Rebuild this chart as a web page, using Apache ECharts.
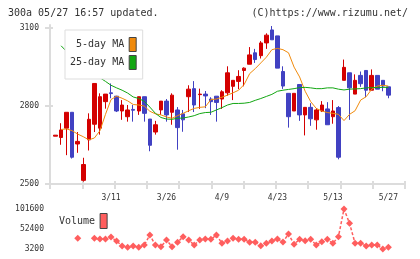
<!DOCTYPE html>
<html>
<head>
<meta charset="utf-8">
<script src="https://cdn.jsdelivr.net/npm/echarts@6/dist/echarts.min.js"></script>
<style>
  html, body { margin: 0; padding: 0; background: #fff; }
  #chart { width: 420px; height: 259px; }
</style>
</head>
<body>
<div id="chart"></div>
<script>
const dates = [
  "2/25", "2/26", "2/27", "2/28", "3/3", "3/4", "3/5", "3/6", "3/7", "3/10",
  "3/11", "3/12", "3/13", "3/14", "3/17", "3/18", "3/19", "3/21", "3/24", "3/25", "3/26",
  "3/27", "3/28", "3/31", "4/1", "4/2", "4/3", "4/4", "4/7", "4/8", "4/9",
  "4/10", "4/11", "4/14", "4/15", "4/16", "4/17", "4/18", "4/21", "4/22", "4/23",
  "4/24", "4/25", "4/28", "5/1", "5/2", "5/7", "5/8", "5/9", "5/12", "5/13",
  "5/14", "5/15", "5/16", "5/19", "5/20", "5/21", "5/22", "5/23", "5/26", "5/27",
];

const openP = [
  2684, 2679, 2715, 2776, 2654, 2514, 2670, 2730, 2715, 2817,
  2851, 2838, 2781, 2759, 2787, 2781, 2836, 2750, 2700, 2785,
  2819, 2776, 2785, 2770, 2836, 2867, 2844, 2846, 2827, 2838,
  2827, 2851, 2876, 2895, 2937, 2961, 3005, 2994, 3043, 3093,
  3070, 2933, 2849, 2781, 2883, 2766, 2795, 2747, 2781, 2789,
  2759, 2794, 2899, 2928, 2846, 2918, 2937, 2861, 2918, 2899, 2874,
];
const closeP = [
  2688, 2708, 2776, 2603, 2664, 2575, 2749, 2887, 2836, 2846,
  2848, 2781, 2804, 2785, 2784, 2836, 2772, 2649, 2728, 2819,
  2766, 2842, 2717, 2747, 2865, 2804, 2846, 2839, 2817, 2814,
  2855, 2928, 2899, 2914, 2946, 2997, 2979, 3043, 3073, 3055,
  2946, 2877, 2759, 2849, 2766, 2795, 2751, 2785, 2804, 2728,
  2781, 2603, 2949, 2870, 2899, 2886, 2861, 2918, 2865, 2877, 2842,
];
const lowP = [
  2684, 2651, 2611, 2598, 2620, 2509, 2629, 2700, 2690, 2790,
  2830, 2777, 2747, 2740, 2740, 2766, 2740, 2626, 2690, 2766,
  2740, 2728, 2632, 2701, 2777, 2777, 2789, 2792, 2766, 2740,
  2789, 2840, 2823, 2865, 2876, 2961, 2966, 2983, 3020, 3055,
  2946, 2866, 2717, 2781, 2743, 2687, 2724, 2709, 2777, 2728,
  2732, 2595, 2899, 2747, 2846, 2874, 2834, 2861, 2865, 2857, 2830,
];
const highP = [
  2688, 2734, 2776, 2776, 2700, 2601, 2772, 2887, 2849, 2846,
  2887, 2838, 2823, 2804, 2804, 2836, 2836, 2750, 2743, 2819,
  2827, 2849, 2796, 2785, 2880, 2896, 2867, 2858, 2834, 2838,
  2861, 2953, 2899, 2938, 2949, 3027, 3020, 3050, 3080, 3108,
  3070, 2953, 2849, 2849, 2883, 2795, 2811, 2792, 2819, 2815,
  2823, 2800, 2979, 2928, 2922, 2933, 2937, 2941, 2918, 2899, 2874,
];

const ma5 = [
  null, 2710, 2712, 2705, 2692, 2682, 2670, 2677, 2705, 2768,
  2825, 2838, 2830, 2820, 2806, 2804, 2800, 2780, 2770, 2766,
  2758, 2753, 2763, 2772, 2782, 2791, 2795, 2797, 2825, 2827,
  2834, 2842, 2851, 2861, 2883, 2925, 2944, 2966, 2988, 3017,
  3022, 3017, 3005, 2950, 2912, 2857, 2817, 2791, 2781, 2775,
  2772, 2768, 2744, 2768, 2782, 2823, 2836, 2865, 2877, 2880, 2877,
];
const ma25 = [
  null, 3032, 3010, 2990, 2971, 2952, 2933, 2918, 2909, 2895,
  2880, 2870, 2861, 2850, 2835, 2829, 2818, 2796, 2772, 2756,
  2750, 2749, 2753, 2754, 2758, 2763, 2771, 2775, 2776, 2785,
  2794, 2804, 2810, 2810, 2811, 2814, 2822, 2829, 2837, 2845,
  2857, 2861, 2864, 2867, 2871, 2872, 2870, 2867, 2867, 2870,
  2870, 2865, 2862, 2865, 2866, 2867, 2870, 2871, 2871, 2872, 2872,
];

const volume = [
  null, null, null, null, 29500, null, null, 29500, 27800, 27800,
  32700, 22900, 10600, 7400, 10600, 7400, 13000, 37600, 13000, 8900,
  25300, 8900, 19600, 33500, 25300, 13000, 25300, 27800, 27000, 37600,
  17200, 22900, 29500, 27000, 27000, 19600, 19600, 11300, 17200, 22900,
  27800, 20400, 40100, 14800, 27000, 23600, 27000, 13000, 21200, 27000,
  17200, 33500, 101600, 66400, 17200, 17200, 10600, 13000, 13000, 3200, 7400,
];

const priceTicks = [2500, 2800, 3100];
const volumeTicks = [3200, 52400, 101600];

// one empty slot before the first day and three after the last
const axisDays = [""].concat(dates, ["", "", ""]);
const candles = closeP.map((c, i) => [i + 1, openP[i], c, lowP[i], highP[i]]);

const mono = "DejaVu Sans Mono";
const gridLine = "#dcdcdc";
const red = "#d40000";
const blue = "#4141c2";
const orange = "#f08a0c";
const green = "#12a612";
const pink = "#ff5e5e";
const plain = (v) => String(v);

const chart = echarts.init(document.getElementById("chart"), null, { renderer: "canvas" });

const option = {
  animation: false,
  title: [
    {
      text: "300a 05/27 16:57 updated.",
      left: 8,
      top: 8,
      padding: 0,
      textStyle: { fontFamily: mono, fontSize: 10, fontWeight: "normal", color: "#333" },
    },
    {
      text: "(C)https://www.rizumu.net/",
      right: 12,
      top: 8,
      padding: 0,
      textStyle: { fontFamily: mono, fontSize: 10, fontWeight: "normal", color: "#333" },
    },
  ],
  legend: [
    {
      data: [
        { name: "5-day MA", icon: "rect", itemStyle: { color: orange, borderColor: "#444", borderWidth: 1 } },
        { name: "25-day MA", icon: "rect", itemStyle: { color: green, borderColor: "#444", borderWidth: 1 } },
      ],
      orient: "vertical",
      align: "right",
      left: 65,
      top: 30,
      padding: [7, 6, 9, 5],
      itemGap: 3,
      itemWidth: 7,
      itemHeight: 14,
      backgroundColor: "#fff",
      borderColor: "#ddd",
      borderWidth: 1,
      selectedMode: false,
      textStyle: { fontFamily: mono, fontSize: 10, color: "#333" },
    },
    {
      data: [
        { name: "Volume", icon: "rect", itemStyle: { color: pink, borderColor: "#444", borderWidth: 1 } },
      ],
      align: "right",
      left: 59,
      top: 213,
      padding: 0,
      itemWidth: 7,
      itemHeight: 15,
      selectedMode: false,
      textStyle: { fontFamily: mono, fontSize: 10, color: "#333" },
    },
  ],
  grid: [
    { left: 50, top: 25, width: 355, height: 159 },
    { left: 50, top: 209, width: 355, height: 40 },
  ],
  xAxis: [
    {
      type: "category",
      gridIndex: 0,
      data: axisDays,
      boundaryGap: false,
      position: "bottom",
      axisLine: { show: false },
      axisTick: { show: false },
      splitLine: { show: false },
      axisLabel: {
        interval: (index, value) => value !== "" && index >= 11 && (index - 1) % 10 === 0,
        margin: 10,
        fontFamily: mono,
        fontSize: 8,
        color: "#333",
      },
    },
    {
      // tick marks along the price axis (outside part)
      type: "value",
      gridIndex: 0,
      min: 0,
      max: 11,
      interval: 1,
      position: "bottom",
      axisLine: { show: true, onZero: false, lineStyle: { color: gridLine, width: 2 } },
      axisTick: { show: true, length: 5, lineStyle: { color: gridLine, width: 2 } },
      axisLabel: { show: false },
      splitLine: { show: false },
    },
    {
      // inside part of the same ticks
      type: "value",
      gridIndex: 0,
      min: 0,
      max: 11,
      interval: 1,
      position: "bottom",
      axisLine: { show: false, onZero: false },
      axisTick: { show: true, inside: true, length: 3, lineStyle: { color: gridLine, width: 2 } },
      axisLabel: { show: false },
      splitLine: { show: false },
    },
    {
      type: "category",
      gridIndex: 1,
      data: axisDays,
      boundaryGap: false,
      show: false,
    },
  ],
  yAxis: [
    {
      type: "value",
      gridIndex: 0,
      min: 2500,
      max: 3112,
      position: "left",
      axisLine: { show: true, onZero: false, lineStyle: { color: gridLine, width: 2 } },
      axisTick: { show: true, length: 5, customValues: priceTicks, lineStyle: { color: gridLine, width: 2 } },
      axisLabel: { customValues: priceTicks, formatter: plain, margin: 11, fontFamily: mono, fontSize: 8, color: "#333" },
      splitLine: { show: false },
    },
    {
      type: "value",
      gridIndex: 0,
      min: 2500,
      max: 3112,
      position: "left",
      axisLine: { show: false, onZero: false },
      axisTick: { show: true, inside: true, length: 3, customValues: priceTicks, lineStyle: { color: gridLine, width: 2 } },
      axisLabel: { show: false },
      splitLine: { show: false },
    },
    {
      type: "value",
      gridIndex: 1,
      min: 3200,
      max: 101600,
      position: "left",
      axisLine: { show: false },
      axisTick: { show: false },
      axisLabel: { customValues: volumeTicks, formatter: plain, margin: 6, fontFamily: mono, fontSize: 8, color: "#333" },
      splitLine: { show: false },
    },
  ],
  series: [
    {
      name: "price",
      type: "candlestick",
      xAxisIndex: 0,
      yAxisIndex: 0,
      data: candles,
      encode: { x: 0, y: [1, 2, 3, 4] },
      barWidth: 4,
      clip: false,
      itemStyle: {
        color: red,
        color0: blue,
        borderColor: red,
        borderColor0: blue,
        borderWidth: 1,
      },
      z: 2,
    },
    {
      name: "5-day MA",
      type: "line",
      xAxisIndex: 0,
      yAxisIndex: 0,
      data: [null].concat(ma5),
      showSymbol: false,
      color: orange,
      lineStyle: { color: orange, width: 1 },
      z: 3,
    },
    {
      name: "25-day MA",
      type: "line",
      xAxisIndex: 0,
      yAxisIndex: 0,
      data: [null].concat(ma25),
      showSymbol: false,
      color: green,
      lineStyle: { color: green, width: 1 },
      z: 3,
    },
    {
      name: "Volume",
      type: "line",
      xAxisIndex: 3,
      yAxisIndex: 2,
      data: [null].concat(volume),
      symbol: "diamond",
      symbolSize: 7,
      showSymbol: true,
      showAllSymbol: true,
      color: pink,
      itemStyle: { color: pink },
      lineStyle: { color: pink, width: 1.5, type: [3, 2] },
      clip: false,
    },
  ],
};

chart.setOption(option);
</script>
</body>
</html>
